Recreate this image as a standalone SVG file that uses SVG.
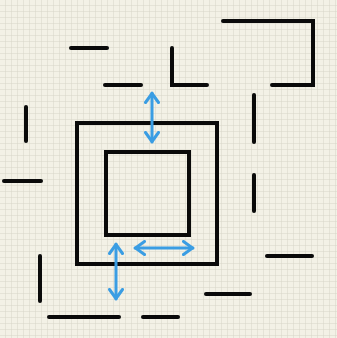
<svg xmlns="http://www.w3.org/2000/svg" width="337" height="338" viewBox="0 0 337 338">
<defs>
<pattern id="grid" width="6" height="6" patternUnits="userSpaceOnUse">
<rect width="6" height="6" fill="#f3f1e6"/>
<path d="M6 0V6M0 6H6" stroke="#d8d5c8" stroke-width="1" fill="none"/>
</pattern>
<marker id="chev" viewBox="0 0 12 16" refX="11" refY="8" markerWidth="12" markerHeight="16" markerUnits="userSpaceOnUse" orient="auto-start-reverse">
<path d="M1.5 1.5L10.5 8L1.5 14.5" fill="none" stroke="#3a9de3" stroke-width="3" stroke-linecap="round" stroke-linejoin="round"/>
</marker>
</defs>
<style>
.w{fill:none;stroke:#0a0a0a;stroke-width:4;stroke-linecap:round;stroke-linejoin:miter}
.a{fill:none;stroke:#3a9de3;stroke-width:3;stroke-linecap:round;marker-start:url(#chev);marker-end:url(#chev)}
</style>
<rect width="337" height="338" fill="url(#grid)"/>
<g id="walls">
<path class="w" d="M71 48H107"/>
<path class="w" d="M105 85H141"/>
<path class="w" d="M26 107V141"/>
<path class="w" d="M223 21H313V85H272"/>
<path class="w" d="M172 48V85H207"/>
<path class="w" d="M254 95V142"/>
<path class="w" d="M4 181H41"/>
<path class="w" d="M254 175V211"/>
<path class="w" d="M267 256H312"/>
<path class="w" d="M206 294H250"/>
<path class="w" d="M40 256V301"/>
<path class="w" d="M49 317H119"/>
<path class="w" d="M143 317H178"/>
</g>
<g id="outer-square">
<rect class="w" x="77" y="123" width="140" height="141"/>
</g>
<g id="inner-square">
<rect class="w" x="106" y="152" width="83" height="83"/>
</g>
<g id="connectors">
<path class="a" d="M152 93V142"/>
<path class="a" d="M116 244V299"/>
<path class="a" d="M135 248H193"/>
</g>
</svg>
